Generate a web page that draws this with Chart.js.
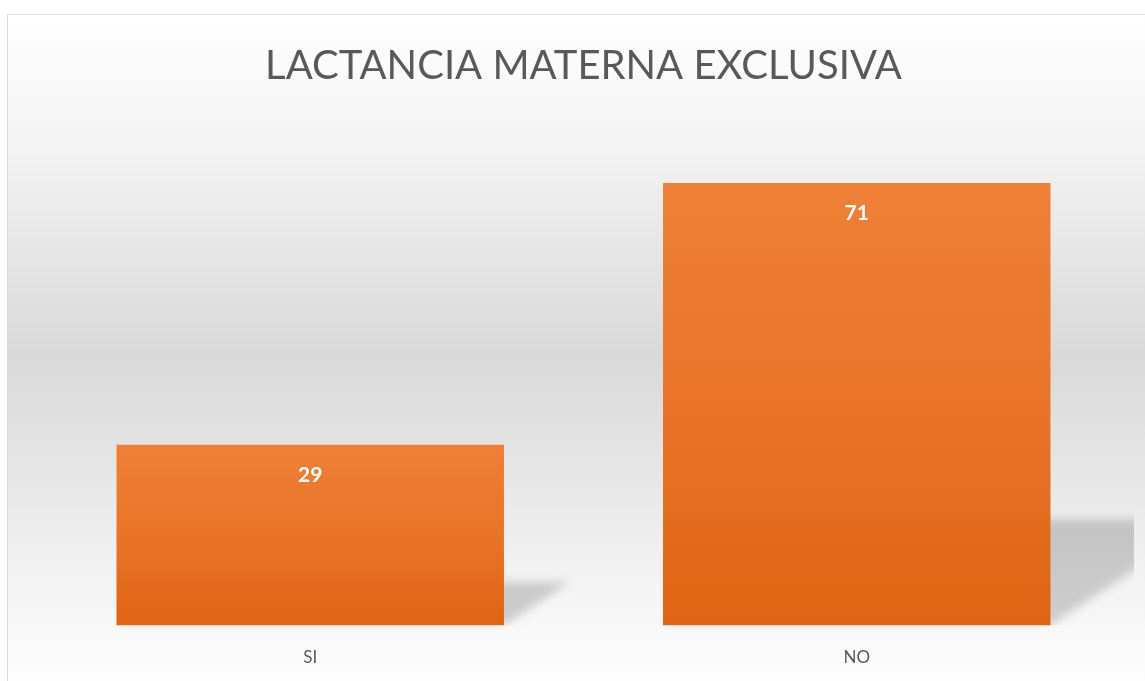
<!DOCTYPE html>
<html lang="es">
<head>
    <meta charset="UTF-8" />
    <title>Lactancia materna exclusiva</title>
    <style>
        body {
            margin: 0;
            padding: 0;
            background: #fff;
            overflow: hidden;
        }
        .chart-box {
            position: absolute;
            left: 7px;
            top: 14px;
            width: 1150px;
            height: 680px;
            border: 1px solid #d9d9d9;
            background: linear-gradient(to bottom, #ffffff 0%, #f4f4f4 18%, #d9d9d9 50%, #f0f0f0 80%, #ffffff 100%);
        }
    </style>
    <script src="https://cdn.jsdelivr.net/npm/chart.js"></script>
</head>
<body>
    <div class="chart-box">
        <canvas id="chart"></canvas>
    </div>
    <script>
        const categories = ["SI", "NO"];
        const values = [29, 71];
        const titleText = "LACTANCIA MATERNA EXCLUSIVA";

        // orange gradient per bar, lighter at the top
        function barFill(context) {
            const chart = context.chart;
            if (!chart.chartArea) return "#e87226";
            const yScale = chart.scales.y;
            const top = yScale.getPixelForValue(context.raw);
            const base = yScale.getPixelForValue(0);
            const g = chart.ctx.createLinearGradient(0, top, 0, base);
            g.addColorStop(0, "#ee8036");
            g.addColorStop(0.5, "#e97428");
            g.addColorStop(1, "#df6413");
            return g;
        }

        // perspective shadow behind each bar + value labels
        const shadowPlugin = {
            id: "perspShadow",
            beforeDatasetsDraw(chart) {
                const ctx = chart.ctx;
                const area = chart.chartArea;
                const meta = chart.getDatasetMeta(0);
                ctx.save();
                ctx.beginPath();
                ctx.rect(area.left, area.top, area.right - area.left + 4, area.bottom - area.top);
                ctx.clip();
                ctx.filter = "blur(5px)";
                ctx.fillStyle = "rgba(0,0,0,0.17)";
                meta.data.forEach((bar) => {
                    const left = bar.x - bar.width / 2;
                    const right = bar.x + bar.width / 2;
                    const h = bar.base - bar.y;
                    const k = 0.24 * h;
                    const s = 1.5 * k;
                    ctx.beginPath();
                    ctx.moveTo(left, bar.base);
                    ctx.lineTo(right, bar.base);
                    ctx.lineTo(right + s, bar.base - k);
                    ctx.lineTo(left + s, bar.base - k);
                    ctx.closePath();
                    ctx.fill();
                });
                ctx.restore();
            },
            afterDatasetsDraw(chart) {
                const ctx = chart.ctx;
                const meta = chart.getDatasetMeta(0);
                ctx.save();
                ctx.fillStyle = "#ffffff";
                ctx.font = "bold 21px Lato, 'Open Sans', sans-serif";
                ctx.textAlign = "center";
                ctx.textBaseline = "middle";
                meta.data.forEach((bar, i) => {
                    ctx.fillText(String(values[i]), bar.x, bar.y + 30);
                });
                ctx.restore();
            }
        };

        new Chart(document.getElementById("chart"), {
            type: "bar",
            data: {
                labels: categories,
                datasets: [{
                    data: values,
                    backgroundColor: barFill,
                    borderWidth: 0,
                    categoryPercentage: 1,
                    barPercentage: 0.709
                }]
            },
            options: {
                responsive: true,
                maintainAspectRatio: false,
                animation: false,
                layout: {
                    padding: { left: 29, right: 28, top: 0, bottom: 5 }
                },
                plugins: {
                    legend: { display: false },
                    tooltip: { enabled: false },
                    title: {
                        display: true,
                        text: titleText,
                        color: "#595959",
                        font: { family: "Lato, 'Open Sans', sans-serif", size: 40, weight: "normal" },
                        padding: { top: 27, bottom: 37 }
                    }
                },
                scales: {
                    x: {
                        grid: { display: false, drawTicks: false },
                        border: { display: false },
                        ticks: {
                            color: "#595959",
                            padding: 22,
                            font: { family: "Lato, 'Open Sans', sans-serif", size: 17 }
                        }
                    },
                    y: {
                        display: false,
                        min: 0,
                        max: 80
                    }
                }
            },
            plugins: [shadowPlugin]
        });
    </script>
</body>
</html>
